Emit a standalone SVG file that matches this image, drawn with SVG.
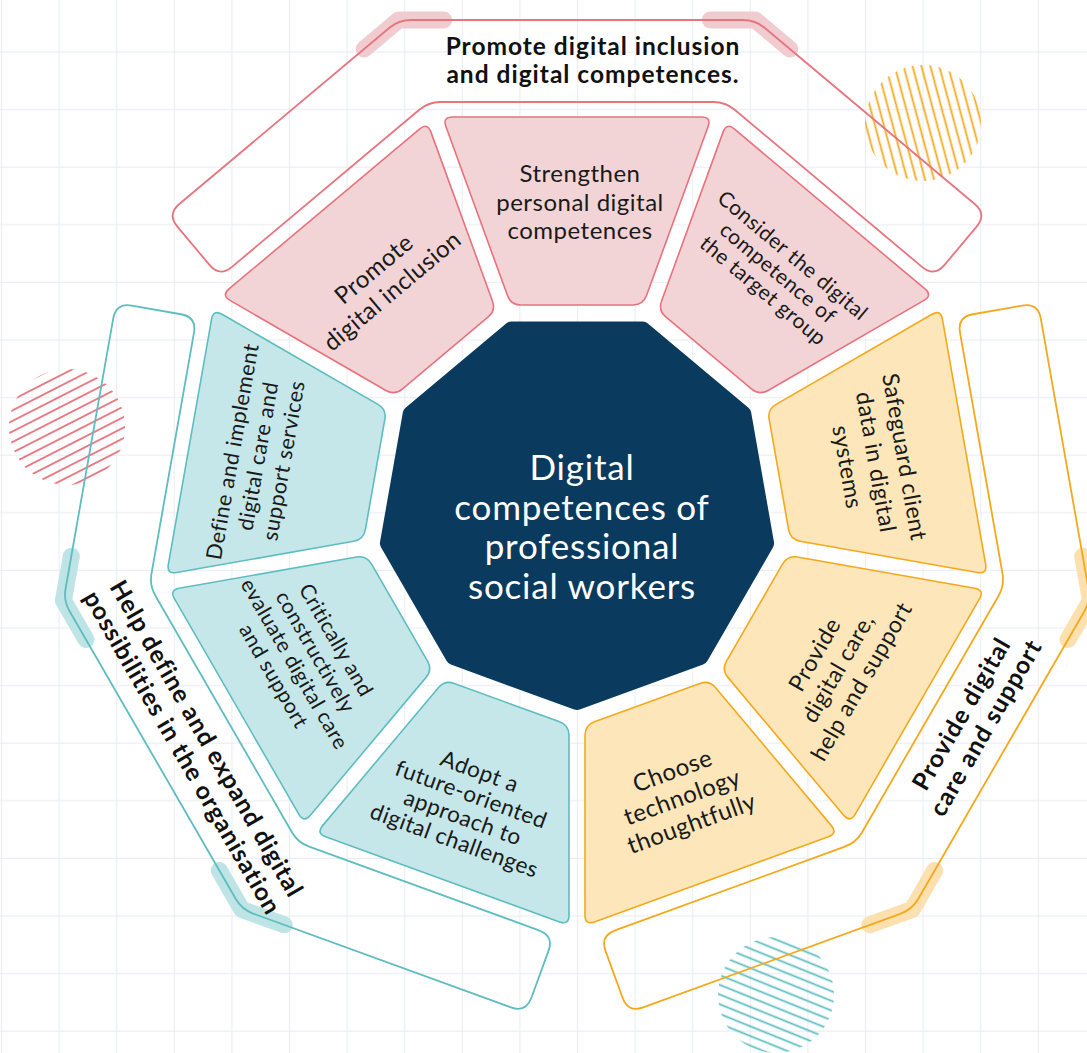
<svg xmlns="http://www.w3.org/2000/svg" xmlns:xlink="http://www.w3.org/1999/xlink" width="1087" height="1053" viewBox="0 0 1087 1053">
  <style>
    .seg-pink { fill: #f2d4d7; stroke: #e8727c; stroke-width: 1.6; }
    .seg-yellow { fill: #fde6b9; stroke: #f5a81c; stroke-width: 1.6; }
    .seg-teal { fill: #c5e7e9; stroke: #5dbdc1; stroke-width: 1.6; }
    .band { fill: none; stroke-width: 1.8; }
    .band-pink { stroke: #e8747e; }
    .band-yellow { stroke: #f5a81c; }
    .band-teal { stroke: #5dbdc1; }
    .hl { fill: none; stroke-width: 17; stroke-linecap: round; stroke-linejoin: round; }
    .hl-pink { stroke: #f0ccd1; }
    .hl-yellow { stroke: #fce0b0; }
    .hl-teal { stroke: #bfe4e6; }
    .lbl { font-family: Lato, "Liberation Sans", sans-serif; fill: #1a1a1a; text-anchor: middle; letter-spacing: 0.5px; }
    .group-lbl { font-family: Lato, "Liberation Sans", sans-serif; font-weight: 700; font-size: 24.5px; letter-spacing: 1px; fill: #111; text-anchor: middle; }
    .core-lbl { font-family: Lato, "Liberation Sans", sans-serif; font-size: 35px; letter-spacing: 0.8px; fill: #ffffff; text-anchor: middle; }
  </style>
  <defs>
    <pattern id="grid" width="57.6" height="57.6" patternUnits="userSpaceOnUse">
      <path d="M1.5 0V57.6M0 52H57.6" stroke="#eceef2" stroke-width="1.3" fill="none"/>
    </pattern>
    <pattern id="hatch-orange" width="30" height="8.6" patternUnits="userSpaceOnUse" patternTransform="rotate(75)">
      <path d="M0 4.3H30" stroke="#f5a81c" stroke-width="1.8"/>
    </pattern>
    <pattern id="hatch-pink" width="30" height="9.4" patternUnits="userSpaceOnUse" patternTransform="rotate(-27)">
      <path d="M0 4.7H30" stroke="#e8747e" stroke-width="1.8"/>
    </pattern>
    <pattern id="hatch-teal" width="30" height="9" patternUnits="userSpaceOnUse" patternTransform="rotate(22)">
      <path d="M0 4.5H30" stroke="#5dbdc1" stroke-width="1.8"/>
    </pattern>
    <!-- one ring segment, drawn on the top edge; others are rotated copies -->
    <path id="seg" d="M520.9 305 L633.1 305 Q643.1 305 646.5 295.6 L708.1 126.4 Q711.5 117 701.5 117 L452.5 117 Q442.5 117 445.9 126.4 L507.5 295.6 Q510.9 305 520.9 305 Z"/>
    <!-- outer bracket band spanning three edges, drawn around the top group -->
    <path id="band" d="M179.31 204.06 L389.46 27.72 Q398.65 20 410.65 20 L743.35 20 Q755.35 20 764.54 27.72 L974.69 204.06 Q986.95 214.35 976.66 226.61 L944.53 264.9 Q934.24 277.16 921.98 266.87 L734.69 109.72 Q725.5 102 713.5 102 L440.5 102 Q428.5 102 419.31 109.72 L232.02 266.87 Q219.76 277.16 209.47 264.9 L177.34 226.61 Q167.05 214.35 179.31 204.06 Z"/>
    <path id="band-hl" d="M364.18 48.93 L398.65 20 L443.65 20 M710.35 20 L755.35 20 L789.82 48.93"/>
  </defs>

  <!-- background grid -->
  <rect width="1087" height="1053" fill="#ffffff"/>
  <rect width="1087" height="1053" fill="url(#grid)"/>

  <!-- hatched decorative discs -->
  <g id="decor">
    <circle cx="923" cy="123" r="58" fill="url(#hatch-orange)"/>
    <circle cx="67" cy="427" r="58" fill="url(#hatch-pink)"/>
    <circle cx="776" cy="995" r="58" fill="url(#hatch-teal)"/>
  </g>

  <!-- outer brackets with group titles -->
  <g id="bracket-pink">
    <use href="#band-hl" class="hl hl-pink"/>
    <use href="#band" class="band band-pink"/>
    <text class="group-lbl"><tspan x="593" y="55">Promote digital inclusion</tspan><tspan x="593" y="83">and digital competences.</tspan></text>
  </g>
  <g id="bracket-yellow">
    <g transform="rotate(120 577 510)">
      <use href="#band-hl" class="hl hl-yellow"/>
      <use href="#band" class="band band-yellow"/>
    </g>
    <text class="group-lbl" transform="translate(974 721) rotate(-60)"><tspan x="0" y="-6">Provide digital</tspan><tspan x="0" y="22">care and support</tspan></text>
  </g>
  <g id="bracket-teal">
    <g transform="rotate(240 577 510)">
      <use href="#band-hl" class="hl hl-teal"/>
      <use href="#band" class="band band-teal"/>
    </g>
    <text class="group-lbl" transform="translate(194 746) rotate(60)"><tspan x="0" y="-6">Help define and expand digital</tspan><tspan x="0" y="22">possibilities in the organisation</tspan></text>
  </g>

  <!-- ring segments -->
  <g id="n-promote-inclusion">
    <use href="#seg" class="seg-pink" transform="rotate(-40 577 510)"/>
    <text class="lbl" font-size="24" transform="translate(383 280) rotate(-40)"><tspan x="0" y="-6">Promote</tspan><tspan x="0" y="22.5">digital inclusion</tspan></text>
  </g>
  <g id="n-strengthen">
    <use href="#seg" class="seg-pink"/>
    <text class="lbl" font-size="24" transform="translate(580 202)"><tspan x="0" y="-20">Strengthen</tspan><tspan x="0" y="8.5">personal digital</tspan><tspan x="0" y="37">competences</tspan></text>
  </g>
  <g id="n-target-group">
    <use href="#seg" class="seg-pink" transform="rotate(40 577 510)"/>
    <text class="lbl" font-size="21" transform="translate(778 273) rotate(40)"><tspan x="0" y="-15.7">Consider the digital</tspan><tspan x="0" y="7.3">competence of</tspan><tspan x="0" y="30.3">the target group</tspan></text>
  </g>
  <g id="n-safeguard">
    <use href="#seg" class="seg-yellow" transform="rotate(80 577 510)"/>
    <text class="lbl" font-size="23" transform="translate(876 462) rotate(80)"><tspan x="0" y="-21">Safeguard client</tspan><tspan x="0" y="8">data in digital</tspan><tspan x="0" y="37">systems</tspan></text>
  </g>
  <g id="n-provide-care">
    <use href="#seg" class="seg-yellow" transform="rotate(120 577 510)"/>
    <text class="lbl" font-size="23" transform="translate(838 668) rotate(-60)"><tspan x="0" y="-19">Provide</tspan><tspan x="0" y="8">digital care,</tspan><tspan x="0" y="35">help and support</tspan></text>
  </g>
  <g id="n-choose-tech">
    <use href="#seg" class="seg-yellow" transform="rotate(160 577 510)"/>
    <text class="lbl" font-size="24" transform="translate(682 797) rotate(-20)"><tspan x="0" y="-19.6">Choose</tspan><tspan x="0" y="8.4">technology</tspan><tspan x="0" y="36.4">thoughtfully</tspan></text>
  </g>
  <g id="n-future">
    <use href="#seg" class="seg-teal" transform="rotate(200 577 510)"/>
    <text class="lbl" font-size="22.5" transform="translate(467 806) rotate(20)"><tspan x="0" y="-29">Adopt a</tspan><tspan x="0" y="-4.5">future-oriented</tspan><tspan x="0" y="20">approach to</tspan><tspan x="0" y="44.5">digital challenges</tspan></text>
  </g>
  <g id="n-evaluate">
    <use href="#seg" class="seg-teal" transform="rotate(240 577 510)"/>
    <text class="lbl" font-size="21" transform="translate(305 658) rotate(60)"><tspan x="0" y="-28.7">Critically and</tspan><tspan x="0" y="-4.7">constructively</tspan><tspan x="0" y="19.3">evaluate digital care</tspan><tspan x="0" y="43.3">and support</tspan></text>
  </g>
  <g id="n-define">
    <use href="#seg" class="seg-teal" transform="rotate(280 577 510)"/>
    <text class="lbl" font-size="21.5" transform="translate(258 456) rotate(-80)"><tspan x="0" y="-18.5">Define and implement</tspan><tspan x="0" y="7.5">digital care and</tspan><tspan x="0" y="33.5">support services</tspan></text>
  </g>

  <!-- central nonagon -->
  <g id="n-core">
    <polygon points="577,702 453.6,657.1 387.9,543.3 410.7,414 511.3,329.6 642.7,329.6 743.3,414 766.1,543.3 700.4,657.1" fill="#0a3a5d" stroke="#0a3a5d" stroke-width="16" stroke-linejoin="round"/>
    <text class="core-lbl" transform="translate(582 527)"><tspan x="0" y="-47">Digital</tspan><tspan x="0" y="-7.5">competences of</tspan><tspan x="0" y="32">professional</tspan><tspan x="0" y="71.5">social workers</tspan></text>
  </g>

  <!-- no connectors in this figure -->
  <g id="connectors"/>
</svg>
